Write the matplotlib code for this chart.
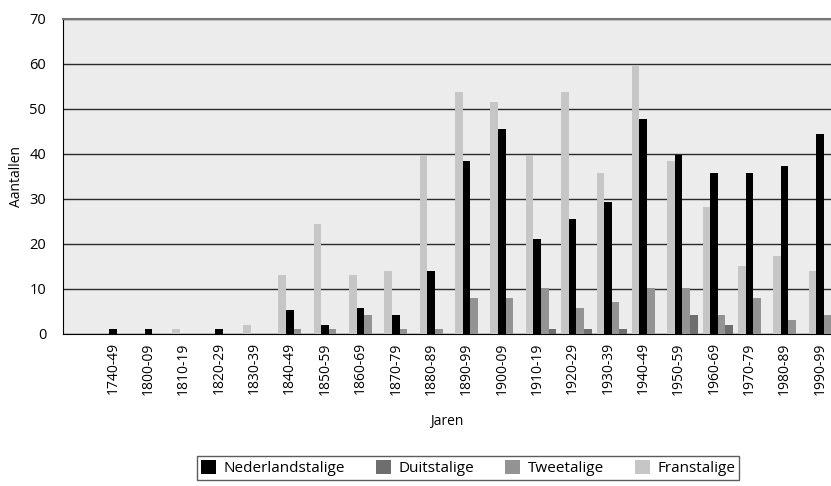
import numpy as np
import matplotlib.pyplot as plt

plt.rcParams['font.family'] = ['Open Sans', 'DejaVu Sans']

# periodes (x-as)
jaren = ['1740-49', '1800-09', '1810-19', '1820-29', '1830-39', '1840-49',
         '1850-59', '1860-69', '1870-79', '1880-89', '1890-99', '1900-09',
         '1910-19', '1920-29', '1930-39', '1940-49', '1950-59', '1960-69',
         '1970-79', '1980-89', '1990-99']

nederlandstalig = [1.0, 1.0, 0, 1.0, 0, 5.4, 2.1, 5.8, 4.3, 14.1, 38.4, 45.6,
                   21.2, 25.5, 29.3, 47.8, 39.8, 35.8, 35.8, 37.4, 44.5]
duitstalig = [0, 0, 0, 0, 0, 0, 0, 0, 0, 0, 0, 0,
              1.0, 1.0, 1.0, 0, 4.3, 2.1, 0, 0, 0]
tweetalig = [0, 0, 0, 0, 0, 1.0, 1.0, 4.3, 1.0, 1.0, 8.1, 8.1,
             10.3, 5.8, 7.0, 10.3, 10.3, 4.3, 8.1, 3.2, 4.3]
franstalig = [0, 0, 1.0, 0, 2.1, 13.0, 24.4, 13.0, 14.1, 39.8, 53.7, 51.5,
              39.8, 53.7, 35.8, 59.7, 38.4, 28.2, 15.2, 17.4, 14.1]

x = np.arange(len(jaren))
w = 0.215

fig = plt.figure(figsize=(8.31, 4.86), dpi=100)
ax = fig.add_axes([0.0758, 0.3128, 0.9242, 0.6482])
ax.set_facecolor('#ececec')

# volgorde in de groep: Frans, Nederlands, Tweetalig, Duits
ax.bar(x - w, franstalig, w, color='#c6c6c6', label='Franstalige', zorder=3)
ax.bar(x, nederlandstalig, w, color='#000000', label='Nederlandstalige', zorder=3)
ax.bar(x + w, tweetalig, w, color='#939393', label='Tweetalige', zorder=3)
ax.bar(x + 2 * w, duitstalig, w, color='#6e6e6e', label='Duitstalige', zorder=3)

ax.set_xlim(-1.414, 20.31)
ax.set_ylim(0, 70)
ax.set_yticks(np.arange(0, 71, 10))
ax.yaxis.grid(True, color='#2a2a2a', linewidth=1.0, zorder=1)
ax.set_xticks(x)
ax.set_xticklabels(jaren, rotation=90, fontsize=10)
ax.tick_params(axis='both', length=0, labelsize=10.5)
ax.tick_params(axis='x', pad=6, labelsize=10)
ax.tick_params(axis='y', pad=12)

ax.spines['right'].set_visible(False)
ax.spines['top'].set_color('#777777')
ax.spines['top'].set_linewidth(1.5)
ax.spines['left'].set_color('#000000')
ax.spines['bottom'].set_color('#000000')

ax.set_ylabel('Aantallen', fontsize=10, labelpad=4)
ax.set_xlabel('Jaren', fontsize=10, labelpad=14)

handles, labels = ax.get_legend_handles_labels()
order = [1, 3, 2, 0]
leg = fig.legend([handles[i] for i in order], [labels[i] for i in order],
                 loc='center', bbox_to_anchor=(468 / 831, 1 - 468 / 486),
                 ncol=4, fontsize=11, frameon=True, fancybox=False,
                 edgecolor='#333333', handlelength=1.0, handleheight=1.0,
                 columnspacing=2.0, handletextpad=0.5, borderpad=0.25)
leg.get_frame().set_linewidth(1.0)

fig.savefig('out.png', dpi=100)
